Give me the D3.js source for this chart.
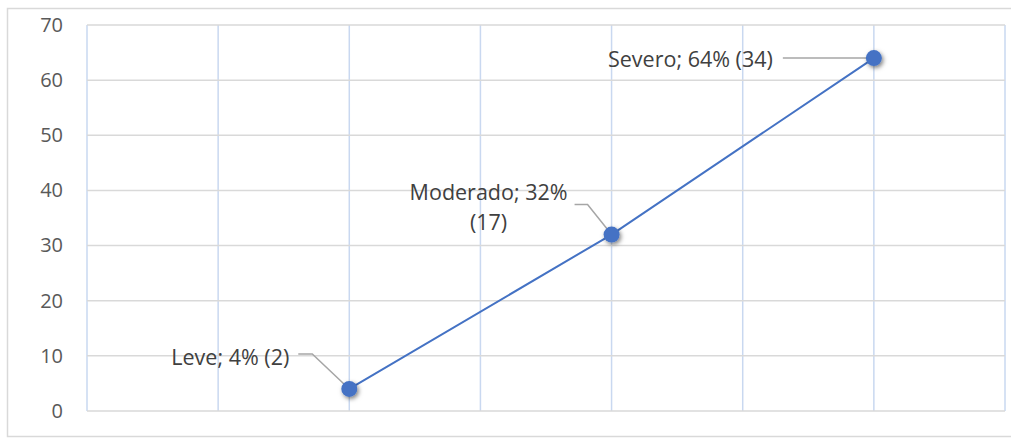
<!DOCTYPE html>
<html>
<head>
<meta charset="utf-8">
<script src="https://cdn.jsdelivr.net/npm/d3@7"></script>
<style>
  body { margin: 0; background: #fff; }
  svg { display: block; font-family: "Open Sans", sans-serif; }
</style>
</head>
<body>
<svg id="chart" width="1011" height="438"></svg>
<script>
const categories = ["Leve", "Moderado", "Severo"];
const xValues = [2, 4, 6];
const percents = [4, 32, 64];
const counts = [2, 17, 34];
const yTicks = [0, 10, 20, 30, 40, 50, 60, 70];
const xGrid = [0, 1, 2, 3, 4, 5, 6, 7];

const width = 1011;
const height = 438;
const margin = ({ top: 25, right: 6, bottom: 27, left: 87 });

const data = categories.map((c, i) => ({ name: c, x: xValues[i], value: percents[i], n: counts[i] }));

const svg = d3.select("#chart");

const x = d3.scaleLinear().domain([0, 7]).range([margin.left, width - margin.right]);
const y = d3.scaleLinear().domain([0, 70]).range([height - margin.bottom, margin.top]);

// drop shadow for markers
const defs = svg.append("defs");
const f = defs.append("filter").attr("id", "shadow")
  .attr("x", "-50%").attr("y", "-50%").attr("width", "200%").attr("height", "200%");
f.append("feDropShadow").attr("dx", 1.5).attr("dy", 2).attr("stdDeviation", 2)
  .attr("flood-color", "#000").attr("flood-opacity", 0.5);

// outer frame
svg.append("rect")
  .attr("x", 7.5).attr("y", 8.5)
  .attr("width", width).attr("height", 428)
  .attr("fill", "none").attr("stroke", "#d9d9d9").attr("stroke-width", 1.5);

// vertical grid
svg.append("g").attr("class", "x-grid")
  .selectAll("line").data(xGrid).join("line")
  .attr("x1", d => x(d)).attr("x2", d => x(d))
  .attr("y1", y(70)).attr("y2", y(0))
  .attr("stroke", "#c9d8f0").attr("stroke-width", 1.5);

// horizontal grid
svg.append("g").attr("class", "y-grid")
  .selectAll("line").data(yTicks).join("line")
  .attr("x1", x(0)).attr("x2", x(7))
  .attr("y1", d => y(d)).attr("y2", d => y(d))
  .attr("stroke", "#d9d9d9").attr("stroke-width", 1.5);

// y axis
const yAxis = g => g
  .attr("transform", `translate(${margin.left},0)`)
  .call(d3.axisLeft(y).tickValues(yTicks).tickSize(0).tickPadding(24))
  .call(g => g.select(".domain").remove())
  .call(g => g.selectAll("text")
    .attr("fill", "#595959")
    .style("font-size", "20px")
    .style("font-family", "'Open Sans', sans-serif"));

svg.append("g").attr("class", "y-axis").call(yAxis);

// leader lines (label offsets relative to each point)
const labelCfg = [
  { leader: [[-37, -35], [-51, -35]], lines: ["Leve; 4% (2)"], anchor: "end", dx: -60, dy: -33 },
  { leader: [[-24, -30], [-37, -30]], lines: ["Moderado; 32%", "(17)"], anchor: "middle", dx: -123, dy: -44 },
  { leader: [[-91, 0]], lines: ["Severo; 64% (34)"], anchor: "end", dx: -101, dy: 0 }
];

const line = d3.line().x(d => x(d.x)).y(d => y(d.value));

svg.append("g").attr("class", "leaders")
  .selectAll("path").data(data).join("path")
  .attr("d", (d, i) => {
    const px = x(d.x), py = y(d.value);
    const pts = [[px, py], ...labelCfg[i].leader.map(p => [px + p[0], py + p[1]])];
    return d3.line()(pts);
  })
  .attr("fill", "none").attr("stroke", "#a6a6a6").attr("stroke-width", 1.5);

svg.append("path")
  .datum(data)
  .attr("fill", "none")
  .attr("stroke", "#4472c4")
  .attr("stroke-width", 2)
  .attr("d", line);

svg.append("g").attr("class", "markers")
  .selectAll("circle").data(data).join("circle")
  .attr("cx", d => x(d.x)).attr("cy", d => y(d.value))
  .attr("r", 8)
  .attr("fill", "#4472c4")
  .attr("filter", "url(#shadow)");

// data labels
const labels = svg.append("g").attr("class", "labels")
  .selectAll("text").data(data).join("text")
  .attr("x", (d, i) => x(d.x) + labelCfg[i].dx)
  .attr("y", (d, i) => y(d.value) + labelCfg[i].dy)
  .attr("text-anchor", (d, i) => labelCfg[i].anchor)
  .attr("dominant-baseline", "central")
  .attr("fill", "#404040")
  .style("font-size", "21.5px");

labels.selectAll("tspan")
  .data((d, i) => labelCfg[i].lines)
  .join("tspan")
  .attr("x", function () { return d3.select(this.parentNode).attr("x"); })
  .attr("dy", (d, j) => j === 0 ? 0 : 30)
  .text(d => d);
</script>
</body>
</html>
